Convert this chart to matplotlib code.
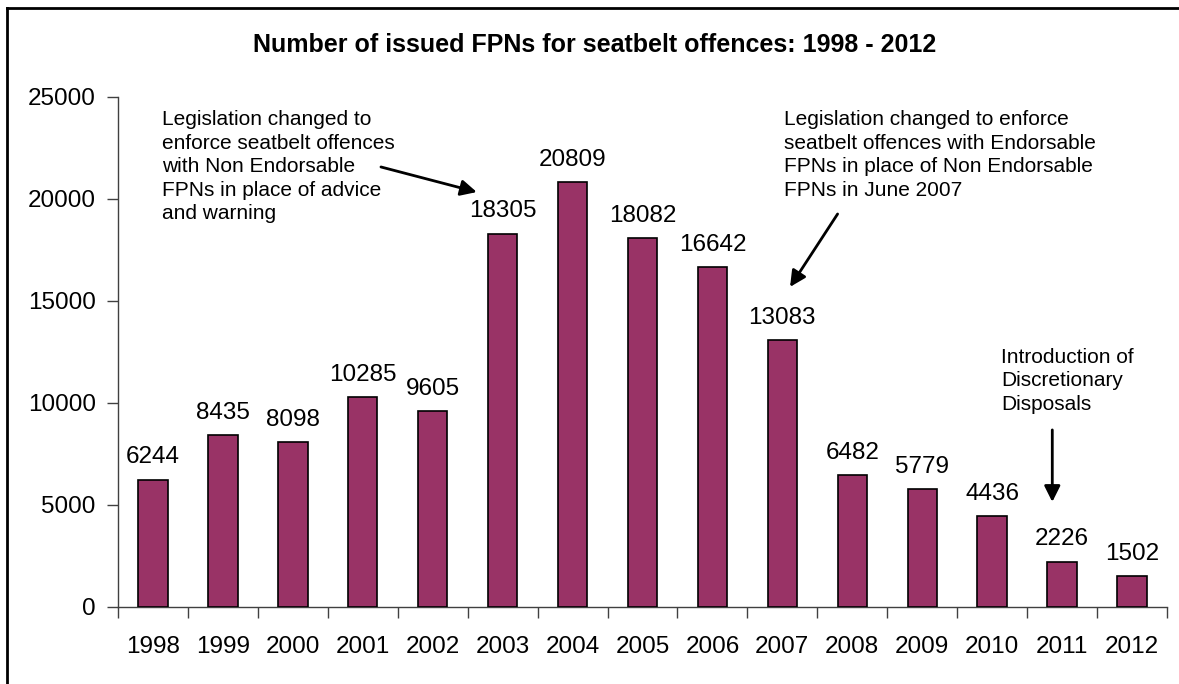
import numpy as np
import matplotlib
matplotlib.use("Agg")
import matplotlib.pyplot as plt
from matplotlib.lines import Line2D

plt.rcParams['font.family'] = ['Liberation Sans', 'DejaVu Sans']

# data
years = ['1998', '1999', '2000', '2001', '2002', '2003', '2004', '2005',
         '2006', '2007', '2008', '2009', '2010', '2011', '2012']
fpns = [6244, 8435, 8098, 10285, 9605, 18305, 20809, 18082,
        16642, 13083, 6482, 5779, 4436, 2226, 1502]

note_2003 = ("Legislation changed to\nenforce seatbelt offences\nwith Non Endorsable\n"
             "FPNs in place of advice\nand warning")
note_2007 = ("Legislation changed to enforce\nseatbelt offences with Endorsable\n"
             "FPNs in place of Non Endorsable\nFPNs in June 2007")
note_2011 = "Introduction of\nDiscretionary\nDisposals"

fig = plt.figure(figsize=(11.79, 6.84), dpi=100)
ax = fig.add_axes([0.1001, 0.1126, 0.8897, 0.7456])

x = np.arange(len(years))
ax.bar(x, fpns, width=0.42, color='#993366', edgecolor='black', linewidth=1.2, zorder=3)

for xi, v in zip(x, fpns):
    ax.annotate(str(v), (xi, v), xytext=(0, 8), textcoords='offset points',
                ha='center', va='bottom', fontsize=17.5)

ax.set_xlim(-0.5, len(years) - 0.5)
ax.set_ylim(0, 25000)
ax.set_yticks(np.arange(0, 25001, 5000))
ax.set_xticks(x)
ax.set_xticklabels(years)
ax.set_xticks(np.arange(-0.5, len(years)), minor=True)
ax.tick_params(axis='x', which='major', length=0, pad=21, labelsize=17.5)
ax.tick_params(axis='x', which='minor', length=8, width=1, color='#404040', direction='out')
ax.tick_params(axis='y', length=8, width=1, color='#404040', pad=8, labelsize=17.5)

for s in ['top', 'right']:
    ax.spines[s].set_visible(False)
for s in ['left', 'bottom']:
    ax.spines[s].set_color('#404040')
    ax.spines[s].set_linewidth(1)

arrow = dict(arrowstyle='-|>', color='black', lw=2, mutation_scale=24, shrinkA=0, shrinkB=0)
ax.annotate('', xy=(4.63, 20340), xytext=(3.26, 21570), arrowprops=arrow)
ax.annotate('', xy=(9.11, 15690), xytext=(9.79, 19265), arrowprops=arrow)
ax.annotate('', xy=(12.86, 5150), xytext=(12.86, 8680), arrowprops=arrow)

ax.text(0.13, 24360, note_2003, fontsize=15, va='top', ha='left', linespacing=1.3)
ax.text(9.03, 24360, note_2007, fontsize=15, va='top', ha='left', linespacing=1.3)
ax.text(12.13, 12700, note_2011, fontsize=15, va='top', ha='left', linespacing=1.3)

fig.text(0.5047, 0.934, 'Number of issued FPNs for seatbelt offences: 1998 - 2012',
         ha='center', va='center', fontsize=18, fontweight='bold')

# outer frame, only the top and left edges show in the picture
fig.add_artist(Line2D([0.006, 0.006], [0.0, 0.988], transform=fig.transFigure, color='black', lw=2))
fig.add_artist(Line2D([0.006, 1.0], [0.988, 0.988], transform=fig.transFigure, color='black', lw=2))

fig.savefig('out.png', dpi=100)
